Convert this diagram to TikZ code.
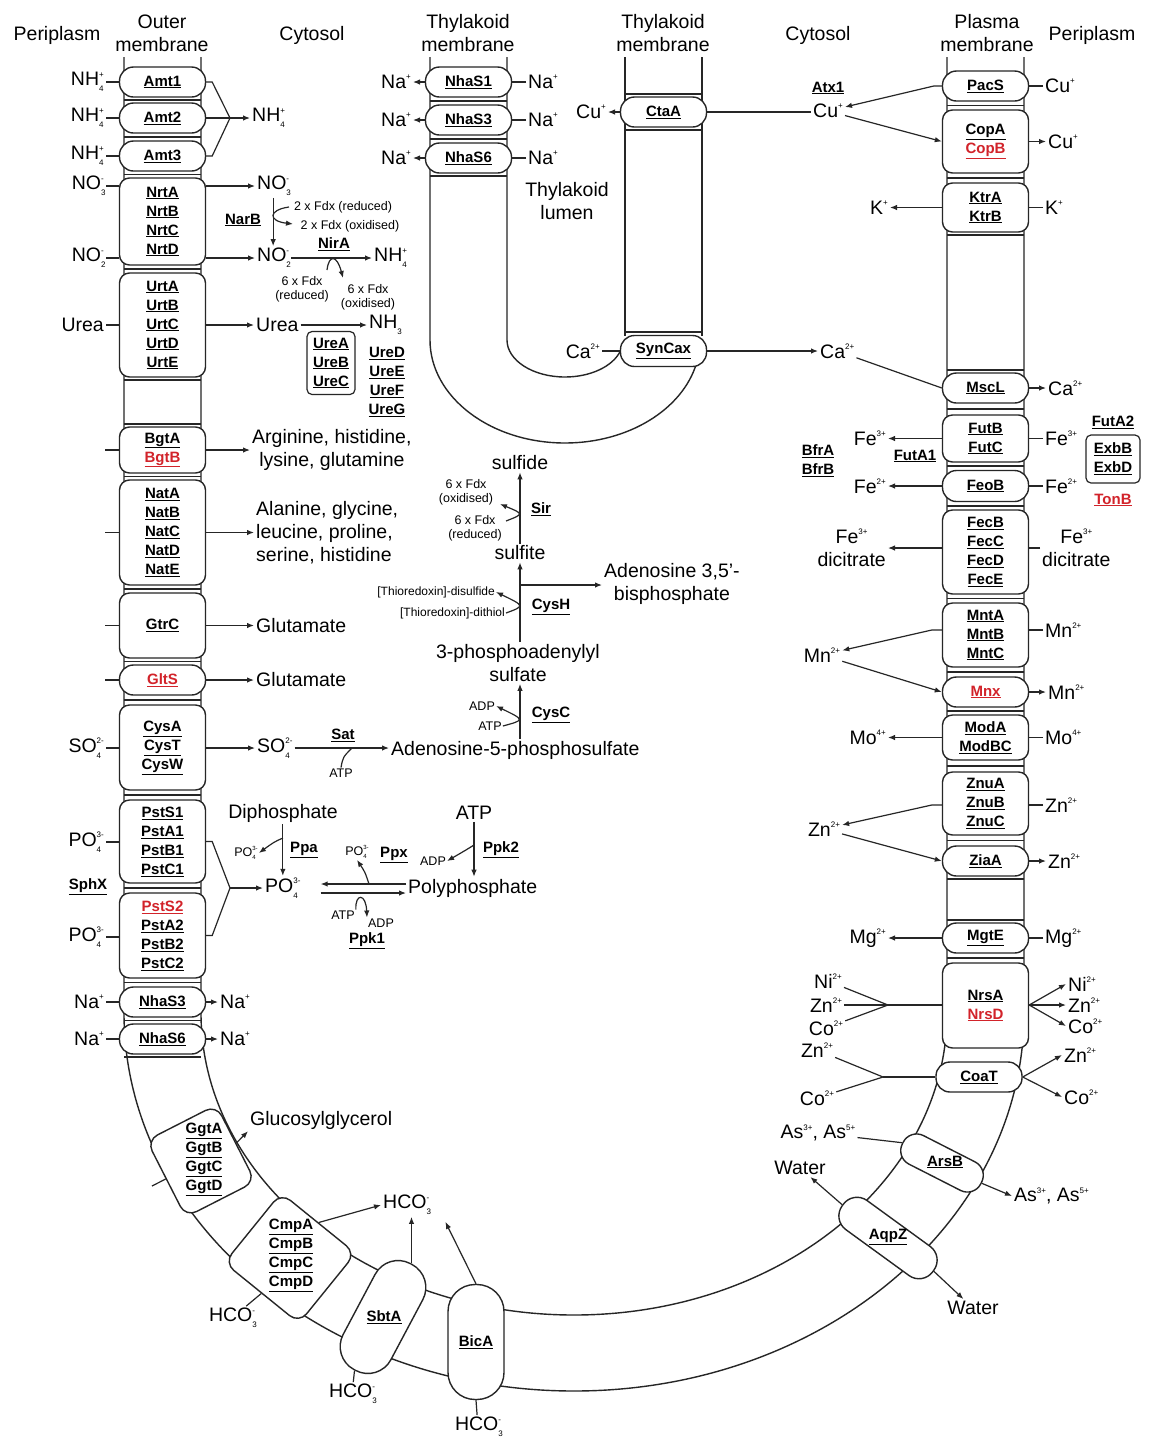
\documentclass[tikz,border=0pt]{standalone}
\usepackage{fontspec}
\setmainfont{Liberation Sans}
\usetikzlibrary{arrows.meta,calc}
\definecolor{inkline}{HTML}{262626}
\definecolor{protred}{HTML}{D2232A}
\newcommand{\lblfont}{\fontsize{19.5}{23}\selectfont}
\newcommand{\protfont}{\fontsize{15}{19}\selectfont\bfseries}
\newcommand{\smlfont}{\fontsize{12.5}{14}\selectfont}
\newcommand{\tnyfont}{\fontsize{12}{14}\selectfont}
\newcommand{\ionc}[3][8]{#2\raisebox{0.85ex}{\fontsize{#1}{#1}\selectfont #3}}
\newcommand{\ionsc}[4][8]{#2\rlap{\raisebox{-0.55ex}{\fontsize{#1}{#1}\selectfont #3}}\raisebox{0.85ex}{\fontsize{#1}{#1}\selectfont #4}}
\newcommand{\pn}[1]{\underline{#1}}
\newcommand{\pnr}[1]{{\color{protred}\underline{#1}}}
\tikzset{
  memline/.style={line width=1.4pt, draw=inkline},
  memcap/.style={line width=1.1pt, draw=inkline},
  prot/.style={draw=inkline, fill=white, line width=1.4pt, rounded corners=10pt, minimum width=86pt, inner sep=0pt, align=center, font=\protfont},
  pill/.style={prot, rounded corners=14pt, minimum height=30pt},
  protrot/.style={draw=inkline, fill=white, line width=1.4pt, rounded corners=12pt, inner sep=0pt},
  ubox/.style={draw=inkline, line width=1.2pt, rounded corners=5pt, inner sep=2pt, align=center, font=\protfont},
  plab/.style={font=\protfont, inner sep=1pt, align=center},
  lbl/.style={font=\lblfont, inner sep=2pt, align=center},
  sml/.style={font=\smlfont, inner sep=1pt, align=center},
  tny/.style={font=\tnyfont, inner sep=1pt},
  conn/.style={line width=1.2pt, draw=inkline},
  arr/.style={conn, -{Latex[length=7pt,width=5.5pt]}},
}
\begin{document}
\begin{tikzpicture}[x=1pt,y=-1pt]
\fill[white] (0,0) rectangle (1151,1441);
\useasboundingbox (0,0) rectangle (1151,1441);

\node[lbl] (hPeriL) at (57,35) {Periplasm};
\node[lbl] (hOuter) at (162,33) {Outer\\membrane};
\node[lbl] (hCytoL) at (312,35) {Cytosol};
\node[lbl] (hThyA) at (468,33) {Thylakoid\\membrane};
\node[lbl] (hThyB) at (663,33) {Thylakoid\\membrane};
\node[lbl] (hCytoR) at (818,35) {Cytosol};
\node[lbl] (hPlasma) at (987,33) {Plasma\\membrane};
\node[lbl] (hPeriR) at (1092,35) {Periplasm};
\node[lbl] (lumen) at (567,201) {Thylakoid\\lumen};

\draw[memline] (124,57) -- (124,1013) arc[start angle=180, end angle=360, x radius=450pt, y radius=378pt] -- (1024,57);
\draw[memline] (201,57) -- (201,1013) arc[start angle=180, end angle=360, x radius=373pt, y radius=302pt] -- (947,57);
\draw[memline] (430,57) -- (430,340) arc[start angle=180, end angle=347, x radius=135pt, y radius=103pt];
\draw[memline] (507,57) -- (507,340) arc[start angle=180, end angle=343, x radius=58pt, y radius=37pt];
\draw[memline] (625,57) -- (625,336);
\draw[memline] (702,57) -- (702,336);
\foreach \y in {100,137,174.5,269,380,424,476.5,589,661.5,700,795,888,982.5,1020.5,1057}
  \draw[memcap] (124,\y) -- (201,\y);
\foreach \y in {101,139,176}
  \draw[memcap] (430,\y) -- (507,\y);
\foreach \y in {94,130,332}
  \draw[memcap] (625,\y) -- (702,\y);
\foreach \y in {105.5,178,235,370,409,466,506,598.5,672,711,766,840.5,879,920,958}
  \draw[memcap] (947,\y) -- (1024,\y);

\node[pill] (amtA) at (162.5,82) {\pn{Amt1}};
\node[pill] (amtB) at (162.5,118) {\pn{Amt2}};
\node[pill] (amtC) at (162.5,156) {\pn{Amt3}};
\node[prot, minimum height=87pt] (nrt) at (162.5,221.5) {\pn{NrtA}\\\pn{NrtB}\\\pn{NrtC}\\\pn{NrtD}};
\node[prot, minimum height=104pt] (urt) at (162.5,325) {\pn{UrtA}\\\pn{UrtB}\\\pn{UrtC}\\\pn{UrtD}\\\pn{UrtE}};
\node[prot, minimum height=46pt] (bgt) at (162.5,450) {\pn{BgtA}\\\pnr{BgtB}};
\node[prot, minimum height=105pt] (nat) at (162.5,532.5) {\pn{NatA}\\\pn{NatB}\\\pn{NatC}\\\pn{NatD}\\\pn{NatE}};
\node[prot, minimum height=65pt] (gtr) at (162.5,625.5) {\pn{GtrC}};
\node[pill] (glt) at (162.5,680) {\pnr{GltS}};
\node[prot, minimum height=85pt] (cys) at (162.5,747.5) {\pn{CysA}\\\pn{CysT}\\\pn{CysW}};
\node[prot, minimum height=83pt] (pstA) at (162.5,841.5) {\pn{PstS1}\\\pn{PstA1}\\\pn{PstB1}\\\pn{PstC1}};
\node[prot, minimum height=85pt] (pstB) at (162.5,935.5) {\pnr{PstS2}\\\pn{PstA2}\\\pn{PstB2}\\\pn{PstC2}};
\node[pill] (nhaL3) at (162.5,1002) {\pn{NhaS3}};
\node[pill] (nhaL6) at (162.5,1039) {\pn{NhaS6}};

\node[pill] (nhaT1) at (468.5,82) {\pn{NhaS1}};
\node[pill] (nhaT3) at (468.5,120) {\pn{NhaS3}};
\node[pill] (nhaT6) at (468.5,158) {\pn{NhaS6}};
\node[pill] (ctaA) at (663.5,112) {\pn{CtaA}};
\node[pill, minimum height=31pt] (synCax) at (663.5,351) {\pn{SynCax}};

\node[pill] (pacS) at (985.5,86) {\pn{PacS}};
\node[prot, minimum height=63pt] (cop) at (985.5,141.5) {\pn{CopA}\\\pnr{CopB}};
\node[prot, minimum height=49pt] (ktr) at (985.5,207.5) {\pn{KtrA}\\\pn{KtrB}};
\node[pill] (mscL) at (985.5,388) {\pn{MscL}};
\node[prot, minimum height=47pt] (fut) at (985.5,438.5) {\pn{FutB}\\\pn{FutC}};
\node[pill, minimum height=31pt] (feoB) at (985.5,486) {\pn{FeoB}};
\node[prot, minimum height=84pt] (fec) at (985.5,552) {\pn{FecB}\\\pn{FecC}\\\pn{FecD}\\\pn{FecE}};
\node[prot, minimum height=64pt] (mnt) at (985.5,635) {\pn{MntA}\\\pn{MntB}\\\pn{MntC}};
\node[pill] (mnx) at (985.5,692) {\pnr{Mnx}};
\node[prot, minimum height=45pt] (mod) at (985.5,737.5) {\pn{ModA}\\\pn{ModBC}};
\node[prot, minimum height=63pt] (znu) at (985.5,803.5) {\pn{ZnuA}\\\pn{ZnuB}\\\pn{ZnuC}};
\node[pill] (ziaA) at (985.5,861) {\pn{ZiaA}};
\node[pill] (mgtE) at (985.5,938) {\pn{MgtE}};
\node[prot, minimum height=85pt] (nrs) at (985.5,1005.5) {\pn{NrsA}\\\pnr{NrsD}};
\node[pill] (coaT) at (979,1077) {\pn{CoaT}};

\node[protrot, rotate=27, minimum width=78pt, minimum height=86pt] (ggt) at (201,1161) {};
\node[plab] (ggtL) at (204,1159) {\pn{GgtA}\\\pn{GgtB}\\\pn{GgtC}\\\pn{GgtD}};
\node[protrot, rotate=-39, minimum width=96pt, minimum height=90pt] (cmp) at (290,1258) {};
\node[plab] (cmpL) at (291,1255) {\pn{CmpA}\\\pn{CmpB}\\\pn{CmpC}\\\pn{CmpD}};
\node[protrot, rotate=-28, minimum width=54pt, minimum height=120pt, rounded corners=26pt] (sbt) at (383,1317) {};
\node[plab] (sbtL) at (384,1317) {\pn{SbtA}};
\node[prot, minimum width=56pt, minimum height=115pt, rounded corners=27pt] (bicA) at (476,1342) {\pn{BicA}};
\node[protrot, rotate=-27, minimum width=88pt, minimum height=32pt, rounded corners=15pt] (arsB) at (942,1163) {};
\node[plab] (arsBL) at (945,1162) {\pn{ArsB}};
\node[protrot, rotate=-36, minimum width=112pt, minimum height=36pt, rounded corners=17pt] (aqpZ) at (888,1238) {};
\node[plab] (aqpZL) at (888,1237) {\pn{AqpZ}};

\node[lbl, anchor=east] (nh4A) at (106,82) {\ionsc{NH}{4}{+}};
\node[lbl, anchor=east] (nh4B) at (106,118) {\ionsc{NH}{4}{+}};
\node[lbl, anchor=east] (nh4C) at (106,156) {\ionsc{NH}{4}{+}};
\node[lbl, anchor=east] (no3P) at (106,186) {\ionsc{NO}{3}{-}};
\node[lbl, anchor=east] (no2P) at (106,258) {\ionsc{NO}{2}{-}};
\node[lbl, anchor=east] (ureaP) at (106,325) {Urea};
\coordinate (bgtP) at (105,450);
\coordinate (natP) at (105,532.5);
\coordinate (gtrP) at (105,625.5);
\coordinate (gltP) at (105,680);
\node[lbl, anchor=east] (so4P) at (106,748) {\ionsc{SO}{4}{2-}};
\node[lbl, anchor=east] (po4P1) at (106,842) {\ionsc{PO}{4}{3-}};
\node[lbl, anchor=east] (po4P2) at (106,937) {\ionsc{PO}{4}{3-}};
\node[plab] (sphX) at (88,887) {\pn{SphX}};
\node[lbl, anchor=east] (naP1) at (106,1002) {\ionc{Na}{+}};
\node[lbl, anchor=east] (naP2) at (106,1039) {\ionc{Na}{+}};
\foreach \a/\b in {nh4A/amtA, nh4B/amtB, nh4C/amtC, no3P/nrt, no2P/nrt, ureaP/urt, so4P/cys, po4P1/pstA, po4P2/pstB, naP1/nhaL3, naP2/nhaL6}
  \draw[conn] (\a.east) -- (\a.east -| \b.west);
\foreach \a/\b in {bgtP/bgt, natP/nat, gtrP/gtr, gltP/glt}
  \draw[conn] (\a) -- (\a -| \b.west);

\coordinate (amtJ) at (230,118);
\node[lbl, anchor=west] (nh4Cy) at (250,118) {\ionsc{NH}{4}{+}};
\draw[conn] (amtA.east) -- ++(6,0) -- (amtJ);
\draw[conn] (amtC.east) -- ++(6,0) -- (amtJ);
\draw[arr] (amtB.east) -- (nh4Cy.west);

\node[lbl, anchor=west] (no3C) at (255,186) {\ionsc{NO}{3}{-}};
\node[lbl, anchor=west] (no2C) at (255,258) {\ionsc{NO}{2}{-}};
\draw[arr] (no3C.west -| nrt.east) -- (no3C.west);
\draw[arr] (no2C.west -| nrt.east) -- (no2C.west);
\draw[arr] (no3C) -- (no2C);
\node[plab] (narB) at (243,220) {\pn{NarB}};
\node[sml] (fdxA) at (343,207) {2 x Fdx (reduced)};
\node[sml] (fdxB) at (350,226) {2 x Fdx (oxidised)};
\coordinate (narIn) at (289,207);
\coordinate (narOut) at (293,224);
\draw[arr] (narIn) .. controls (268,210) and (268,221) .. (narOut);
\node[lbl, anchor=west] (nh4Cy2) at (372,258) {\ionsc{NH}{4}{+}};
\draw[arr] (no2C) -- (nh4Cy2);
\node[plab] (nirA) at (334,244) {\pn{NirA}};
\node[sml] (fdxC) at (302,289) {6 x Fdx\\(reduced)};
\node[sml] (fdxD) at (368,297) {6 x Fdx\\(oxidised)};
\coordinate (nirIn) at (327,270);
\coordinate (nirOut) at (343,278);
\draw[arr] (nirIn) .. controls (329,254) and (337,255) .. (nirOut);

\node[lbl, anchor=west] (ureaC) at (254,325) {Urea};
\node[lbl, anchor=west] (nh3C) at (367,325) {\ionsc{NH}{3}{}};
\draw[arr] (ureaC.west -| urt.east) -- (ureaC.west);
\draw[arr] (ureaC) -- (nh3C);
\node[ubox, minimum width=48pt, minimum height=63pt] (ureABC) at (331,363) {\pn{UreA}\\\pn{UreB}\\\pn{UreC}};
\node[plab] (ureDG) at (387,382) {\pn{UreD}\\\pn{UreE}\\\pn{UreF}\\\pn{UreG}};

\node[lbl, anchor=west] (aaA) at (250,450) {Arginine, histidine,\\lysine, glutamine};
\node[lbl, anchor=west, align=left] (aaB) at (254,532.5) {Alanine, glycine,\\leucine, proline,\\serine, histidine};
\node[lbl, anchor=west] (gluA) at (254,625.5) {Glutamate};
\node[lbl, anchor=west] (gluB) at (254,680) {Glutamate};
\draw[arr] (bgt) -- (aaA);
\draw[arr] (nat) -- (aaB);
\draw[arr] (gtr) -- (gluA);
\draw[arr] (glt) -- (gluB);

\node[lbl, anchor=west] (so4C) at (255,748) {\ionsc{SO}{4}{2-}};
\node[lbl, anchor=west] (aps) at (389,750) {Adenosine-5-phosphosulfate};
\draw[arr] (so4C.west -| cys.east) -- (so4C.west);
\draw[arr] (so4C.east) -- (aps.west |- so4C.east);
\node[plab] (sat) at (343,735) {\pn{Sat}};
\node[sml] (atpS) at (341,773) {ATP};
\coordinate (satJ) at (352,748);
\draw[conn] (atpS.north) .. controls (343,757) .. (satJ);

\node[lbl] (sulfide) at (520,463) {sulfide};
\node[lbl] (sulfite) at (520,553) {sulfite};
\node[lbl] (paps) at (518,663) {3-phosphoadenylyl\\sulfate};
\draw[arr] (sulfite) -- (sulfide);
\node[plab] (sir) at (541,509) {\pn{Sir}};
\node[sml] (fdxE) at (466,492) {6 x Fdx\\(oxidised)};
\node[sml] (fdxF) at (475,528) {6 x Fdx\\(reduced)};
\coordinate (sirIn) at (506,521);
\coordinate (sirOut) at (500,504);
\draw[arr] (sirIn) .. controls (524,514) .. (sirOut);
\draw[arr] (sulfite |- paps.north) -- (sulfite);
\coordinate (cysHB) at (520,585);
\node[lbl, anchor=west] (pap) at (602,584) {Adenosine 3,5'-\\bisphosphate};
\draw[arr] (cysHB) -- (cysHB -| pap.west);
\node[plab] (cysH) at (551,607) {\pn{CysH}};
\node[tny, anchor=east] (trxA) at (496,592) {[Thioredoxin]-disulfide};
\node[tny, anchor=east] (trxB) at (506,613) {[Thioredoxin]-dithiol};
\draw[arr] (trxB.east) .. controls (525,606) .. (trxA.east);
\draw[arr] (sulfite |- aps.north) -- (sulfite |- paps.south);
\node[plab] (cysC) at (551,715) {\pn{CysC}};
\node[sml] (adpC) at (482,706) {ADP};
\node[sml] (atpC) at (490,726) {ATP};
\draw[arr] (atpC.east) .. controls (525,720) .. (adpC.east);

\coordinate (pstJ) at (230,888);
\node[lbl, anchor=west] (po4C) at (263,888) {\ionsc{PO}{4}{3-}};
\draw[conn] (pstA.east) -- ++(6,0) -- (pstJ);
\draw[conn] (pstB.east) -- ++(6,0) -- (pstJ);
\draw[arr] (pstJ) -- (po4C.west);
\node[lbl] (diph) at (283,813) {Diphosphate};
\draw[arr] (diph.south -| po4C) -- (po4C.north);
\node[plab] (ppa) at (304,850) {\pn{Ppa}};
\node[sml] (po4S1) at (246,853) {\ionsc[6]{PO}{4}{3-}};
\coordinate (ppaT) at (283,838);
\draw[arr] (ppaT) .. controls (274,842) .. (po4S1.east);
\node[lbl, anchor=west] (polyP) at (406,888) {Polyphosphate};
\draw[arr] ([yshift=4pt]polyP.west) -- ([xshift=18pt,yshift=4pt]po4C.east);
\draw[arr] ([xshift=18pt,yshift=-5pt]po4C.east) -- ([yshift=-5pt]polyP.west);
\node[sml] (po4S2) at (357,852) {\ionsc[6]{PO}{4}{3-}};
\node[plab] (ppx) at (394,855) {\pn{Ppx}};
\coordinate (ppxT) at (369,884);
\draw[arr] (ppxT) .. controls (365,872) .. (po4S2.south);
\node[sml] (atpK1) at (343,915) {ATP};
\node[sml] (adpK1) at (381,923) {ADP};
\node[plab] (ppk1) at (367,941) {\pn{Ppk1}};
\draw[arr] (atpK1.north east) .. controls (355,893) and (366,893) .. (adpK1.north west);
\node[lbl] (atpB) at (474,813) {ATP};
\draw[arr] (atpB) -- (atpB |- polyP.north);
\node[plab] (ppk2) at (501,850) {\pn{Ppk2}};
\node[sml] (adpK2) at (433,861) {ADP};
\coordinate (ppk2T) at (474,845);
\draw[arr] (ppk2T) .. controls (466,850) .. (adpK2.east);

\node[lbl, anchor=west] (naC1) at (218,1002) {\ionc{Na}{+}};
\node[lbl, anchor=west] (naC2) at (218,1039) {\ionc{Na}{+}};
\draw[arr] (nhaL3.east) -- (naC1.west |- nhaL3.east);
\draw[arr] (nhaL6.east) -- (naC2.west |- nhaL6.east);

\foreach \n/\y in {nhaT1/82, nhaT3/120, nhaT6/158} {
  \node[lbl, anchor=east] (naL\n) at (413,\y) {\ionc{Na}{+}};
  \node[lbl, anchor=west] (naR\n) at (526,\y) {\ionc{Na}{+}};
  \draw[arr] (\n.west) -- (naL\n.east |- \n.west);
  \draw[conn] (naR\n.west |- \n.east) -- (\n.east);
}

\node[lbl, anchor=east] (cuT) at (608,112) {\ionc{Cu}{+}};
\node[lbl] (cuA) at (828,111) {\ionc{Cu}{+}};
\node[plab] (atx1) at (828,88) {\pn{Atx1}};
\draw[arr] (ctaA.west) -- (cuT.east |- ctaA.west);
\draw[conn] (ctaA.east) -- (cuA.west |- ctaA.east);
\node[lbl, anchor=east] (caT) at (602,351) {\ionc{Ca}{2+}};
\node[lbl, anchor=west] (caC) at (818,351) {\ionc{Ca}{2+}};
\draw[conn] (caT.east |- synCax.west) -- (synCax.west);
\draw[arr] (synCax.east) -- (caC.west |- synCax.east);

\node[lbl, anchor=west] (cuP1) at (1043,86) {\ionc{Cu}{+}};
\draw[conn] (cuP1.west) -- (cuP1.west -| pacS.east);
\node[lbl, anchor=west] (cuP2) at (1046,141.5) {\ionc{Cu}{+}};
\draw[arr] (cop.east) -- (cuP2.west |- cop.east);
\draw[arr] (pacS.west) -- ++(-8,0) -- (cuA);
\draw[arr] (cuA) -- (cop.west);
\node[lbl, anchor=west] (kP) at (1043,207.5) {\ionc{K}{+}};
\draw[conn] (kP.west) -- (kP.west -| ktr.east);
\node[lbl, anchor=east] (kC) at (890,207.5) {\ionc{K}{+}};
\draw[arr] (ktr.west) -- (kC.east |- ktr.west);

\draw[conn] (caC) -- (mscL.west);
\node[lbl, anchor=west] (caP) at (1046,388) {\ionc{Ca}{2+}};
\draw[arr] (mscL.east) -- (caP.west |- mscL.east);

\node[lbl, anchor=east] (fe3C) at (888,438.5) {\ionc{Fe}{3+}};
\draw[arr] (fut.west) -- (fe3C.east |- fut.west);
\node[lbl, anchor=west] (fe3P) at (1043,438.5) {\ionc{Fe}{3+}};
\draw[conn] (fe3P.west) -- (fe3P.west -| fut.east);
\node[plab] (futA1) at (915,456) {\pn{FutA1}};
\node[plab] (bfr) at (818,461) {\pn{BfrA}\\\pn{BfrB}};
\node[lbl, anchor=east] (fe2C) at (888,486) {\ionc{Fe}{2+}};
\draw[arr] (feoB.west) -- (fe2C.east |- feoB.west);
\node[lbl, anchor=west] (fe2P) at (1043,486) {\ionc{Fe}{2+}};
\draw[conn] (fe2P.west) -- (fe2P.west -| feoB.east);
\node[plab] (futA2) at (1113,422) {\pn{FutA2}};
\node[ubox, minimum width=54pt, minimum height=48pt] (exb) at (1113,459) {\pn{ExbB}\\\pn{ExbD}};
\node[plab] (tonB) at (1113,500) {\pnr{TonB}};

\node[lbl, anchor=east] (fecC) at (888,548) {\ionc{Fe}{3+}\\dicitrate};
\draw[arr] (fec.west |- fecC.east) -- (fecC.east);
\node[lbl, anchor=west] (fecP) at (1040,548) {\ionc{Fe}{3+}\\dicitrate};
\draw[conn] (fecP.west) -- (fecP.west -| fec.east);

\node[lbl, anchor=west] (mnP1) at (1043,630) {\ionc{Mn}{2+}};
\draw[conn] (mnP1.west) -- (mnP1.west -| mnt.east);
\node[lbl] (mnC) at (822,655) {\ionc{Mn}{2+}};
\draw[arr] (mnt.west |- mnP1.west) -- ++(-10,0) -- (mnC);
\draw[arr] (mnC) -- (mnx.west);
\node[lbl, anchor=west] (mnP2) at (1046,692) {\ionc{Mn}{2+}};
\draw[arr] (mnx.east) -- (mnP2.west |- mnx.east);

\node[lbl, anchor=east] (moC) at (888,737.5) {\ionc{Mo}{4+}};
\draw[arr] (mod.west) -- (moC.east |- mod.west);
\node[lbl, anchor=west] (moP) at (1043,737.5) {\ionc{Mo}{4+}};
\draw[conn] (moP.west) -- (moP.west -| mod.east);

\node[lbl, anchor=west] (znP1) at (1043,805) {\ionc{Zn}{2+}};
\draw[conn] (znP1.west) -- (znP1.west -| znu.east);
\node[lbl] (znC1) at (824,829) {\ionc{Zn}{2+}};
\draw[arr] (znu.west |- znP1.west) -- ++(-10,0) -- (znC1);
\draw[arr] (znC1) -- (ziaA.west);
\node[lbl, anchor=west] (znP2) at (1046,861) {\ionc{Zn}{2+}};
\draw[arr] (ziaA.east) -- (znP2.west |- ziaA.east);

\node[lbl, anchor=east] (mgC) at (888,938) {\ionc{Mg}{2+}};
\draw[arr] (mgtE.west) -- (mgC.east |- mgtE.west);
\node[lbl, anchor=west] (mgP) at (1043,938) {\ionc{Mg}{2+}};
\draw[conn] (mgP.west) -- (mgP.west -| mgtE.east);

\coordinate (nrsJ) at (888,1005);
\node[lbl] (niC) at (828,981) {\ionc{Ni}{2+}};
\node[lbl] (znC2) at (826,1005) {\ionc{Zn}{2+}};
\node[lbl] (coC1) at (826,1028) {\ionc{Co}{2+}};
\draw[conn] (niC) -- (nrsJ);
\draw[conn] (znC2) -- (nrsJ);
\draw[conn] (coC1) -- (nrsJ);
\draw[conn] (nrsJ) -- (nrsJ -| nrs.west);
\node[lbl, anchor=west] (niP) at (1066,984) {\ionc{Ni}{2+}};
\node[lbl, anchor=west] (znP3) at (1066,1005) {\ionc{Zn}{2+}};
\node[lbl, anchor=west] (coP1) at (1066,1026) {\ionc{Co}{2+}};
\foreach \t in {niP, znP3, coP1}
  \draw[arr] (nrs.east |- nrsJ) -- (\t.west);

\coordinate (coaJ) at (883,1077);
\node[lbl] (znC3) at (817,1050) {\ionc{Zn}{2+}};
\node[lbl] (coC2) at (817,1098) {\ionc{Co}{2+}};
\draw[conn] (znC3) -- (coaJ);
\draw[conn] (coC2) -- (coaJ);
\draw[conn] (coaJ) -- (coaT.west);
\node[lbl, anchor=west] (znP4) at (1062,1055) {\ionc{Zn}{2+}};
\node[lbl, anchor=west] (coP2) at (1062,1097) {\ionc{Co}{2+}};
\draw[arr] (coaT.east) -- (znP4.west);
\draw[arr] (coaT.east) -- (coP2.west);

\node[lbl] (asC) at (818,1133) {\ionc{As}{3+}, \ionc{As}{5+}};
\draw[conn] (asC) -- (arsB.west);
\node[lbl, anchor=west] (asP) at (1012,1196) {\ionc{As}{3+}, \ionc{As}{5+}};
\draw[arr] (arsB.east) -- (asP.west);
\node[lbl] (watC) at (800,1168) {Water};
\node[lbl] (watP) at (973,1308) {Water};
\draw[arr] (aqpZ.west) -- (watC);
\draw[arr] (aqpZ.east) -- (watP);

\node[lbl, anchor=west] (glcg) at (248,1120) {Glucosylglycerol};
\draw[arr] (ggt.east) -- (glcg.south west);
\coordinate (ggtP) at (152,1186);
\draw[conn] (ggtP) -- (ggt.west);
\node[lbl, anchor=west] (hco3C) at (381,1205) {\ionsc{HCO}{3}{-}};
\draw[arr] (cmp.north) -- (hco3C.west);
\draw[arr] (sbt.north) -- (sbt.north |- hco3C.south);
\draw[arr] (bicA.north) -- ($(hco3C.south east)+(14,5)$);
\node[lbl] (hco3P1) at (232,1318) {\ionsc{HCO}{3}{-}};
\node[lbl] (hco3P2) at (352,1394) {\ionsc{HCO}{3}{-}};
\node[lbl] (hco3P3) at (478,1427) {\ionsc{HCO}{3}{-}};
\draw[conn] (cmp.south) -- (hco3P1);
\draw[conn] (sbt.south) -- (hco3P2);
\draw[conn] (bicA.south) -- (hco3P3);
\end{tikzpicture}
\end{document}
